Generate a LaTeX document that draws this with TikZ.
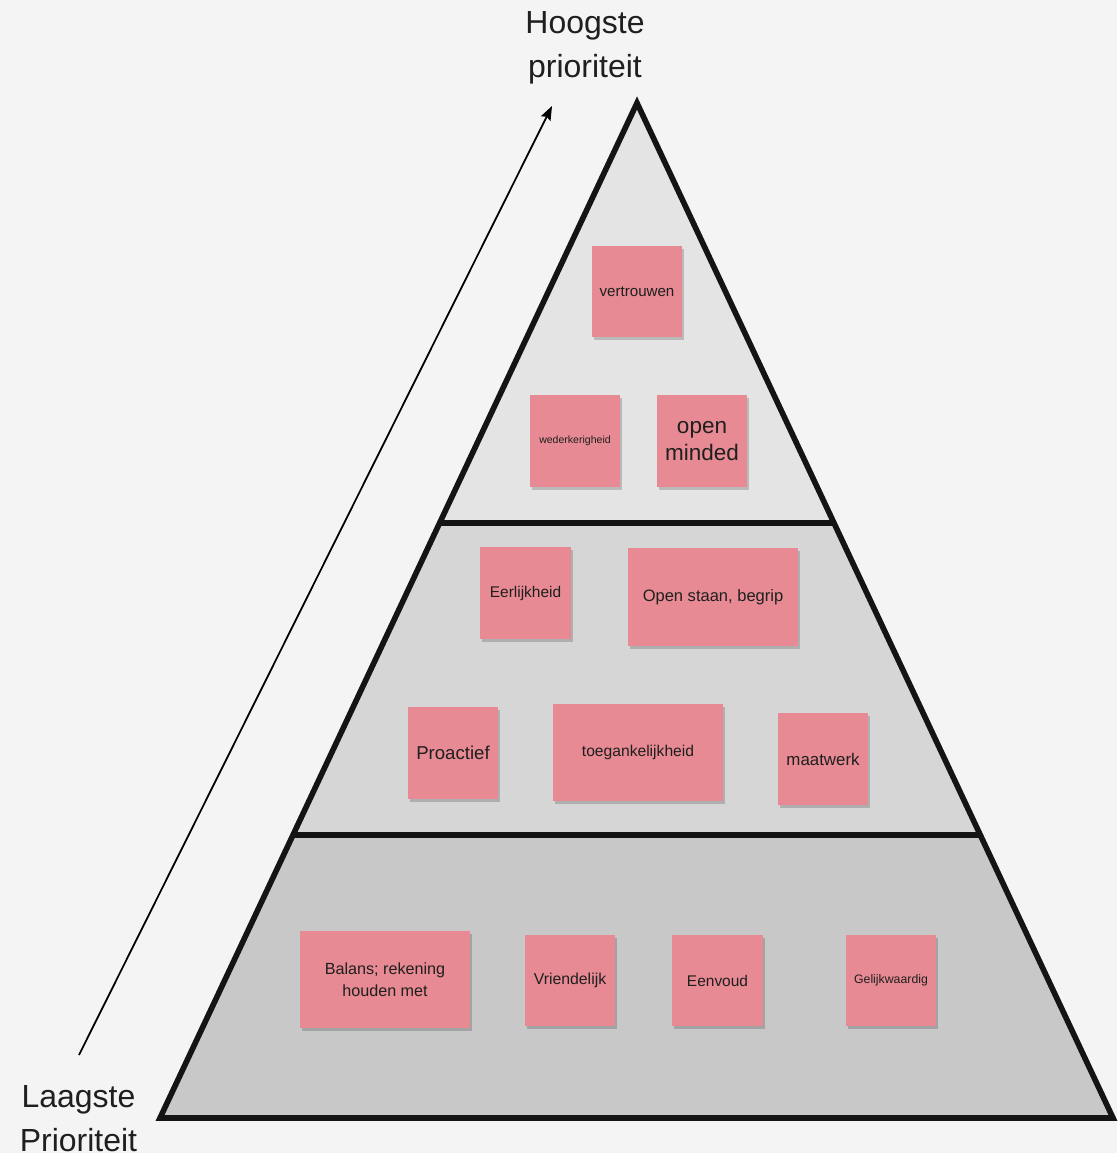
\documentclass[tikz,border=0pt]{standalone}
\usepackage{fontspec}
\setmainfont{Liberation Sans}
\usetikzlibrary{arrows.meta}
\usetikzlibrary{calc}
\usetikzlibrary{shadows}
\definecolor{paper}{HTML}{F4F4F4}
\definecolor{tiertop}{HTML}{E4E4E4}
\definecolor{tiermid}{HTML}{D6D6D6}
\definecolor{tierlow}{HTML}{C8C8C8}
\definecolor{notepink}{HTML}{E78A93}
\colorlet{inktext}{black!88}
\newcommand{\notefont}[1]{\fontsize{#1}{1.2\dimexpr#1\relax}\selectfont}

\begin{document}
\begin{tikzpicture}[x=1cm, y=-1cm,
    sticky/.style={rectangle, fill=notepink, text=inktext, align=center, inner sep=0pt,
        minimum width=0.90cm, minimum height=0.91cm,
        drop shadow={shadow xshift=0.7pt, shadow yshift=-0.8pt, opacity=0.18, fill=black}},
    widenote/.style={sticky, minimum width=1.70cm, minimum height=0.97cm},
    tierline/.style={line width=1.6pt, draw=black!92, line join=miter},
    endlabel/.style={text=inktext, align=center, font=\fontsize{9.1pt}{12.5pt}\selectfont}]
        % page
        \fill[paper] (0,0) rectangle (11.17,11.53);
        \useasboundingbox (0,0) rectangle (11.17,11.53);
        % corners of the pyramid
        \coordinate (apex) at (6.37,1.03);
        \coordinate (bl) at (1.60,11.18);
        \coordinate (br) at (11.13,11.18);
        % tier borders
        \coordinate (ul) at ($(apex)!0.4138!(bl)$);
        \coordinate (ur) at ($(apex)!0.4138!(br)$);
        \coordinate (ml) at ($(apex)!0.7212!(bl)$);
        \coordinate (mr) at ($(apex)!0.7212!(br)$);
        % tiers
        \fill[tiertop] (apex) -- (ul) -- (ur) -- cycle;
        \fill[tiermid] (ul) -- (ml) -- (mr) -- (ur) -- cycle;
        \fill[tierlow] (ml) -- (bl) -- (br) -- (mr) -- cycle;
        \draw[tierline] (apex) -- (bl) -- (br) -- cycle;
        \draw[tierline] (ul) -- (ur);
        \draw[tierline] (ml) -- (mr);
        % priority arrow
        \node[endlabel] (high) at (5.85,0.48) {Hoogste\\prioriteit};
        \node[endlabel] (low) at (0.785,11.19) {Laagste\\Prioriteit};
        \coordinate (arrowstart) at (0.79,10.55);
        \coordinate (arrowend) at (5.52,1.06);
        \draw[line width=0.5pt, -{Stealth[length=4pt, width=3pt, inset=0.6pt]}] (arrowstart) -- (arrowend);
        % top tier
        \node[sticky, font=\notefont{4.3pt}] (trust) at (6.37,2.92) {vertrouwen};
        \node[sticky, font=\notefont{3.0pt}, minimum height=0.92cm] (mutual) at (5.75,4.41) {wederkerigheid};
        \node[sticky, font=\fontsize{6.4pt}{7.7pt}\selectfont, minimum height=0.92cm] (openmind) at (7.02,4.41) {open\\minded};
        % middle tier
        \node[sticky, font=\notefont{4.4pt}, minimum width=0.91cm, minimum height=0.92cm] (honest) at (5.255,5.93) {Eerlijkheid};
        \node[widenote, font=\notefont{4.7pt}, minimum height=0.98cm] (openup) at (7.13,5.97) {Open staan, begrip};
        \node[sticky, font=\notefont{5.3pt}, minimum height=0.92cm] (proactive) at (4.53,7.53) {Proactief};
        \node[widenote, font=\notefont{4.45pt}] (access) at (6.38,7.525) {toegankelijkheid};
        \node[sticky, font=\notefont{4.8pt}, minimum height=0.92cm] (custom) at (8.23,7.59) {maatwerk};
        % bottom tier
        \node[widenote, font=\fontsize{4.6pt}{6.3pt}\selectfont] (balance) at (3.85,9.795) {Balans; rekening\\houden met};
        \node[sticky, font=\notefont{4.5pt}] (friendly) at (5.70,9.805) {Vriendelijk};
        \node[sticky, font=\notefont{4.4pt}, minimum width=0.91cm] (simple) at (7.175,9.805) {Eenvoud};
        \node[sticky, font=\notefont{3.5pt}] (equal) at (8.91,9.805) {Gelijkwaardig};
\end{tikzpicture}
\end{document}
